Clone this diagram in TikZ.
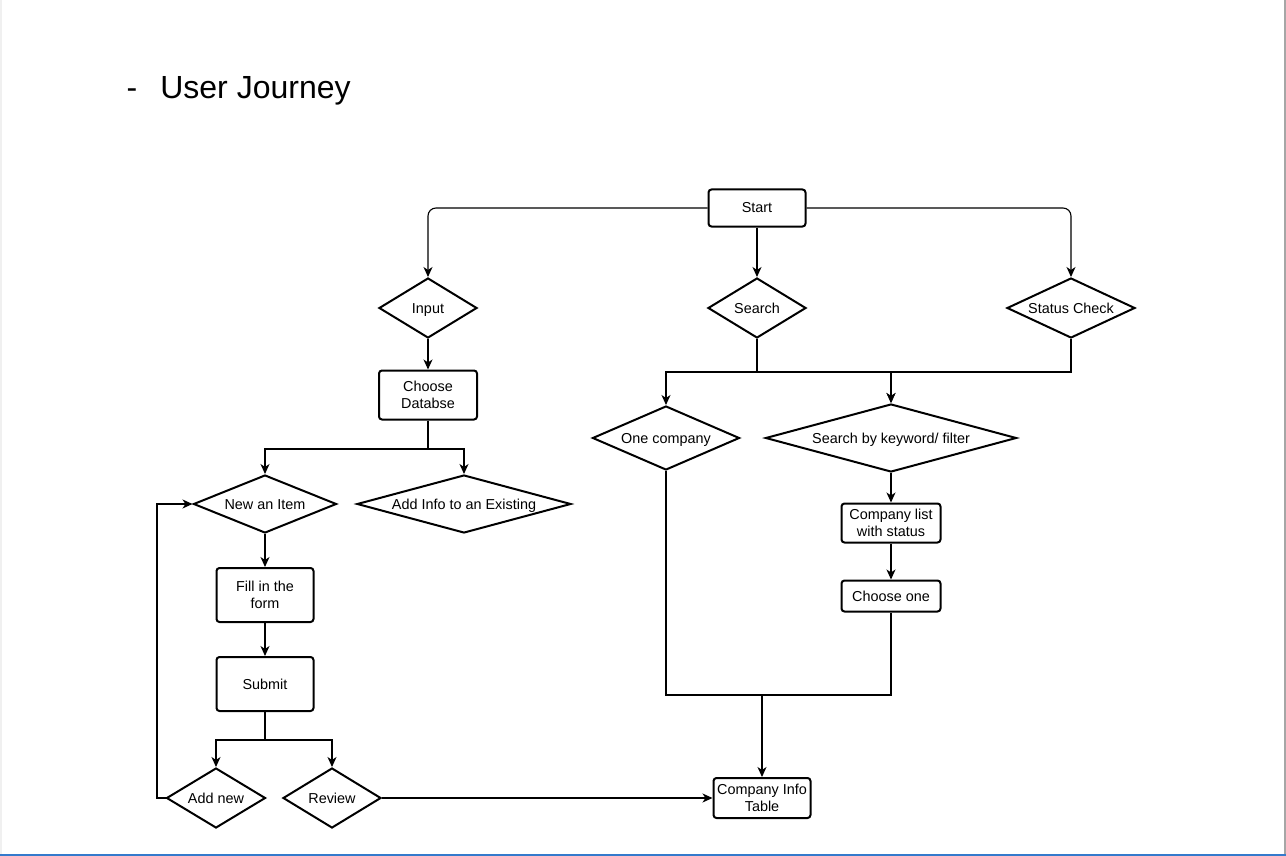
\documentclass[tikz,border=0pt]{standalone}
\usepackage{fontspec}
\setmainfont{Liberation Sans}
\usetikzlibrary{shapes.geometric,arrows.meta}

\definecolor{slideblue}{RGB}{52,122,204}

\tikzset{
  box/.style={draw, rectangle, rounded corners=3pt, line width=2pt, align=center, inner sep=0pt},
  choice/.style={draw, diamond, line width=2pt, inner sep=0pt, aspect=3, text height=10pt, text depth=0pt},
  wire/.style={line width=1.1pt},
  link/.style={wire, -{Stealth[length=10pt,width=9pt,inset=3pt]}},
}

\begin{document}
\begin{tikzpicture}[x=1pt, y=-1pt, font=\fontsize{14.4}{17}\selectfont]
    \useasboundingbox (0,0) rectangle (1286,856);
    % Slide frame
    \fill[gray!12] (0,0) rectangle (2,856);
    \fill[gray!70] (1284,0) rectangle (1286,856);
    \fill[slideblue] (0,854) rectangle (1286,856);
    % Title
    \node[anchor=base west, inner sep=0pt, font=\fontsize{32}{38}\selectfont] (title) at (126.5,99) {-\hspace{23pt}User Journey};
    % Nodes
    \node[box, minimum width=97pt, minimum height=37pt] (start) at (757,208) {Start};
    \node[choice, minimum width=98pt, minimum height=60pt] (input) at (428,308) {Input};
    \node[choice, minimum width=98pt, minimum height=60pt] (search) at (757,308) {Search};
    \node[choice, minimum width=128pt, minimum height=60pt] (status) at (1071,308) {Status Check};
    \node[box, minimum width=98pt, minimum height=49pt] (db) at (428,395) {Choose\\Databse};
    \node[choice, minimum width=143pt, minimum height=58pt] (newitem) at (265,504) {New an Item};
    \node[choice, aspect=4, minimum width=214pt, minimum height=58pt] (addinfo) at (464,504) {Add Info to an Existing};
    \node[box, minimum width=97pt, minimum height=54pt] (form) at (265,595) {Fill in the\\form};
    \node[box, minimum width=97pt, minimum height=54pt] (submit) at (265,684) {Submit};
    \node[choice, minimum width=99pt, minimum height=60pt] (addnew) at (216,798) {Add new};
    \node[choice, minimum width=98pt, minimum height=60pt] (review) at (332,798) {Review};
    \node[choice, minimum width=147pt, minimum height=64pt] (onecomp) at (666,438) {One company};
    \node[choice, aspect=4, minimum width=251pt, minimum height=68pt] (keyword) at (891,438) {Search by keyword/ filter};
    \node[box, minimum width=99pt, minimum height=39pt] (list) at (891,523) {Company list\\with status};
    \node[box, minimum width=99pt, minimum height=31pt] (chooseone) at (891,596) {Choose one};
    \node[box, minimum width=97pt, minimum height=40pt] (table) at (762,798) {Company Info\\Table};
    % Joints
    \coordinate (sjoin) at (757,372);
    \coordinate (tjoin) at (1071,372);
    \coordinate (dbjoin) at (428,449);
    \coordinate (subjoin) at (265,740);
    \coordinate (loop) at (157,798);
    \coordinate (mjoin) at (762,695);
    % Connectors
    \draw[link, rounded corners=8pt] (start.west) -| (input.north);
    \draw[link] (start) -- (search);
    \draw[link, rounded corners=8pt] (start.east) -| (status.north);
    \draw[link] (input) -- (db);
    \draw[link] (search.south) -- (sjoin) -| (onecomp.north);
    \draw[link] (search.south) -- (sjoin) -| (keyword.north);
    \draw[link] (status.south) -- (tjoin) -| (keyword.north);
    \draw[link] (db.south) -- (dbjoin) -| (newitem.north);
    \draw[link] (db.south) -- (dbjoin) -| (addinfo.north);
    \draw[link] (newitem) -- (form);
    \draw[link] (form) -- (submit);
    \draw[link] (submit.south) -- (subjoin) -| (addnew.north);
    \draw[link] (submit.south) -- (subjoin) -| (review.north);
    \draw[link] (addnew.west) -- (loop) |- (newitem.west);
    \draw[link] (review.east) -- (table.west);
    \draw[link] (keyword) -- (list);
    \draw[link] (list) -- (chooseone);
    \draw[wire] (onecomp.south) |- (mjoin);
    \draw[wire] (chooseone.south) |- (mjoin);
    \draw[link] (mjoin) -- (table.north);
\end{tikzpicture}
\end{document}
